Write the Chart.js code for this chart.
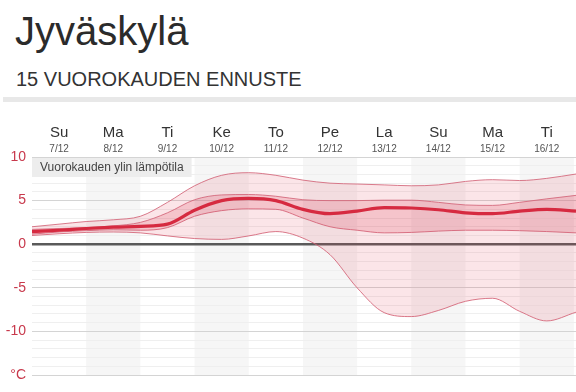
<!DOCTYPE html>
<html><head><meta charset="utf-8">
<script src="https://cdn.jsdelivr.net/npm/chart.js@4/dist/chart.umd.min.js"></script>
<style>
html,body{margin:0;padding:0;background:#fff;width:576px;height:392px;overflow:hidden;font-family:"Liberation Sans",Arial,sans-serif;}
#title{position:absolute;left:15px;top:11px;font-size:40px;line-height:40px;color:#2b2b2b;white-space:nowrap;}
#sub{position:absolute;left:16px;top:69px;font-size:20px;line-height:20px;color:#333;white-space:nowrap;}
#bar{position:absolute;left:3px;top:97px;width:573px;height:5px;background:#e8e8e8;}
#wrap{position:absolute;left:0;top:100px;width:576px;height:292px;}
</style></head><body>
<div id="title">Jyväskylä</div>
<div id="sub">15 VUOROKAUDEN ENNUSTE</div>
<div id="bar"></div>
<div id="wrap"><canvas id="c" width="576" height="292"></canvas></div>
<script>
const dayNames = ["Su","Ma","Ti","Ke","To","Pe","La","Su","Ma","Ti"];
const dayDates = ["7/12","8/12","9/12","10/12","11/12","12/12","13/12","14/12","15/12","16/12"];
const yTicks = [-15,-10,-5,0,5,10];
const legendText = "Vuorokauden ylin lämpötila";
// time in days from 7/12 00:00
const times = [0,0.5,1,1.5,2,2.5,3,3.5,4,4.5,5,5.5,6,6.5,7,7.5,8,8.5,9,9.5,10.04];
const mainTemp   = [1.45,1.6,1.8,1.95,2.05,2.3,3.9,5.0,5.25,5.0,4.0,3.5,3.8,4.2,4.15,3.95,3.6,3.5,3.8,4.0,3.8];
const innerUpper = [1.7,1.8,1.9,2.1,2.5,3.6,5.1,5.65,5.7,5.5,5.1,5.0,5.0,5.05,5.05,4.8,4.5,4.45,4.8,5.2,5.6];
const innerLower = [1.15,1.4,1.55,1.65,1.6,1.9,3.2,3.85,4.05,4.0,3.0,2.0,1.6,1.3,1.35,1.5,1.6,1.6,1.55,1.45,1.3];
const outerUpper = [2.0,2.3,2.6,2.8,3.2,4.8,6.7,7.9,8.2,7.9,7.35,7.0,6.9,6.8,6.7,6.8,7.2,7.4,7.3,7.55,8.05];
const outerLower = [1.0,1.2,1.35,1.4,1.3,0.95,0.65,0.55,0.95,1.45,0.7,-1.2,-5.0,-7.85,-8.3,-7.6,-6.55,-6.2,-7.7,-8.8,-7.8];

const FF = '"Liberation Sans", Arial, sans-serif';
const pts = arr => times.map((t,i)=>({x:t,y:arr[i]}));

const stripes = {
  id:'stripes',
  beforeDraw(chart){
    const {ctx, chartArea:a, scales:{x}} = chart;
    ctx.save(); ctx.fillStyle = '#f6f6f6';
    for(let i=1;i<dayNames.length;i+=2){
      const x0 = x.getPixelForValue(i), x1 = Math.min(x.getPixelForValue(i+1), a.right);
      ctx.fillRect(x0, a.top, x1-x0, a.bottom-a.top);
    }
    ctx.restore();
  }
};
const labelBox = {
  id:'labelBox',
  afterDraw(chart){
    const {ctx, chartArea:a} = chart;
    ctx.save();
    ctx.font = '12px '+FF;
    const w = ctx.measureText(legendText).width;
    ctx.fillStyle = 'rgba(236,236,236,0.95)';
    ctx.fillRect(a.left, a.top+1, w+16, 19);
    ctx.fillStyle = '#444'; ctx.textBaseline = 'middle';
    ctx.fillText(legendText, a.left+8, a.top+10.5);
    ctx.restore();
  }
};

const bandLine = 'rgba(210,100,120,0.85)';
new Chart(document.getElementById('c'), {
  type:'line',
  data:{datasets:[
    {data:pts(mainTemp), borderColor:'#d62a40', borderWidth:3.2, fill:false},
    {data:pts(innerUpper), borderColor:bandLine, borderWidth:1, fill:'+1', backgroundColor:'rgba(220,60,85,0.20)'},
    {data:pts(innerLower), borderColor:bandLine, borderWidth:1, fill:false},
    {data:pts(outerUpper), borderColor:bandLine, borderWidth:1, fill:'+1', backgroundColor:'rgba(225,70,95,0.14)'},
    {data:pts(outerLower), borderColor:bandLine, borderWidth:1, fill:false}
  ]},
  options:{
    responsive:false, animation:false, devicePixelRatio:1,
    layout:{padding:{top:21,bottom:17,left:0,right:0}},
    elements:{point:{radius:0}, line:{cubicInterpolationMode:'monotone'}},
    plugins:{legend:{display:false}, tooltip:{enabled:false}},
    scales:{
      x:{type:'linear', position:'top', min:0, max:10.04, weight:0,
        grid:{display:false, drawTicks:false, tickLength:0}, border:{display:false},
        afterBuildTicks:s=>{ s.ticks = dayDates.map((d,i)=>({value:i+0.5})); },
        afterFit:s=>{ s.height = 15; },
        ticks:{autoSkip:false, maxRotation:0, padding:2, color:'#555', font:{size:10,family:FF},
          callback:(v,i)=>dayDates[i]}
      },
      xDay:{type:'linear', position:'top', min:0, max:10.04, weight:1,
        grid:{display:false, drawTicks:false, tickLength:0}, border:{display:false},
        afterBuildTicks:s=>{ s.ticks = dayNames.map((d,i)=>({value:i+0.5})); },
        afterFit:s=>{ s.height = 21; },
        ticks:{autoSkip:false, maxRotation:0, padding:0, color:'#333', font:{size:15,family:FF},
          callback:(v,i)=>dayNames[i]}
      },
      y:{min:-15, max:10,
        afterBuildTicks:s=>{ const t=[]; for(let v=yTicks[0]; v<=yTicks[yTicks.length-1]; v++) t.push({value:v}); s.ticks=t; },
        afterFit:s=>{ s.width = 32; },
        border:{display:false},
        grid:{drawTicks:false, tickLength:0,
          color:c=>c.tick.value===0?'#5a5a5a':(yTicks.includes(c.tick.value)?'#d4d4d4':'#efefef'),
          lineWidth:c=>c.tick.value===0?2.5:1},
        ticks:{autoSkip:false, padding:6, color:'#c8394c', font:{size:14,family:FF},
          callback:v=>yTicks.includes(v)?(v===-15?'°C':String(v)):''}
      }
    }
  },
  plugins:[stripes, labelBox]
});
</script>
</body></html>
